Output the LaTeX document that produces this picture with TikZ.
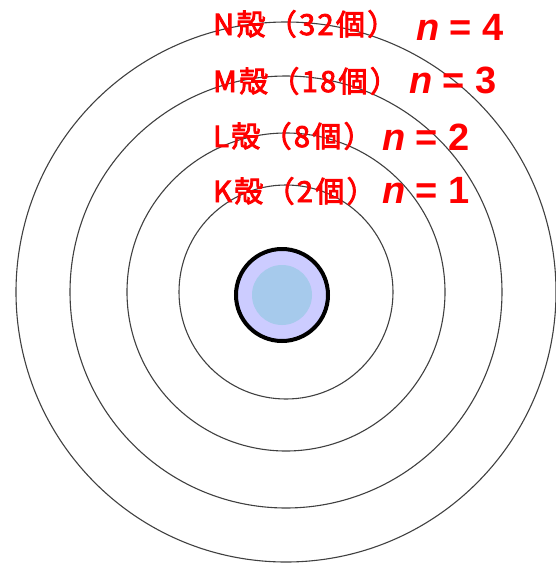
\documentclass[tikz,border=0pt]{standalone}
\usepackage{fontspec}
\setmainfont{Liberation Sans}
\newfontfamily\jpfont[FakeBold=3, LetterSpace=8]{Noto Sans CJK JP}
\usetikzlibrary{positioning}

\definecolor{labelred}{RGB}{255,0,0}
\definecolor{nucleusouter}{RGB}{204,204,255}
\definecolor{nucleusinner}{RGB}{166,202,236}

\begin{document}
\begin{tikzpicture}[
    x=1pt, y=-1pt, % One unit is one pixel of the picture, y pointing down
    shell/.style={draw=black!75, line width=1.1pt}, % Style for the electron shells
    nucleus/.style={circle, draw=black, line width=4pt, fill=nucleusouter, minimum size=92pt, inner sep=0pt}, % Style for the nucleus
    core/.style={circle, fill=nucleusinner, minimum size=60pt, inner sep=0pt}, % Style for the inner disc
    shelllabel/.style={anchor=base west, inner sep=0pt, text=labelred, font=\jpfont\fontsize{29}{29}\selectfont}, % Style for shell names
    nlabel/.style={anchor=base west, inner sep=0pt, text=labelred, font=\bfseries\fontsize{38}{38}\selectfont} % Style for n = ...
]
    \useasboundingbox (0,0) rectangle (556,563);

    % --- Shells ---
    \coordinate (O) at (286,292);
    \foreach \r in {107,159,216,270}
        \draw[shell] (O) circle (\r);

    % --- Nucleus ---
    \node[nucleus] (nuc) at (282,295) {};
    \node[core] (nuccore) at (nuc.center) {};

    % --- Labels ---
    \node[shelllabel] (Nshell) at (213,35) {N殻（32個）};
    \node[shelllabel] (Mshell) at (213,92) {M殻（18個）};
    \node[shelllabel] (Lshell) at (213,147) {L殻（8個）};
    \node[shelllabel] (Kshell) at (213,202) {K殻（2個）};

    \node[nlabel] (n4) at (416,40) {\textit{n} = 4};
    \node[nlabel] (n3) at (409,93) {\textit{n} = 3};
    \node[nlabel] (n2) at (382,150) {\textit{n} = 2};
    \node[nlabel] (n1) at (382,203) {\textit{n} = 1};

\end{tikzpicture}
\end{document}
